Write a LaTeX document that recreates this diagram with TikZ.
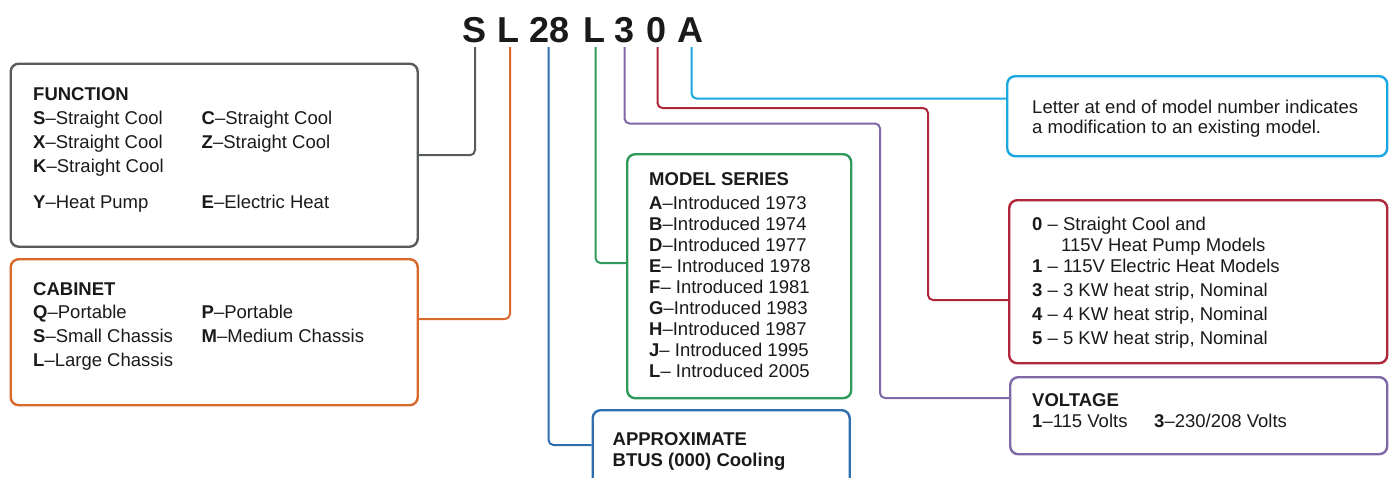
\documentclass[tikz,border=0pt]{standalone}
\usepackage{fontspec}
\setmainfont{Liberation Sans}
\definecolor{cgray}{HTML}{575C5A}
\definecolor{corange}{HTML}{D8692B}
\definecolor{cblue}{HTML}{2E6DAE}
\definecolor{cgreen}{HTML}{2E9A5B}
\definecolor{cpurple}{HTML}{8068A8}
\definecolor{cred}{HTML}{B0263A}
\definecolor{ccyan}{HTML}{1AA7E1}
\definecolor{ink}{HTML}{1A1A1A}
\begin{document}
\begin{tikzpicture}[x=1pt,y=-1pt,
  box/.style={draw, line width=2.4pt, rounded corners=8pt, inner sep=0pt, anchor=north west},
  conn/.style={line width=2pt, rounded corners=5pt},
  txt/.style={anchor=base west, inner sep=0pt, text=ink, font=\fontsize{18.5}{22}\selectfont},
  hdr/.style={anchor=base, inner sep=0pt, text=ink, font=\fontsize{36}{40}\selectfont\bfseries}]
\useasboundingbox (0,0) rectangle (1394,477);
\clip (0,0) rectangle (1394,477);
% header
\node[hdr] (cS) at (474,42) {S};
\node[hdr] (cL1) at (508,42) {L};
\node[hdr] (c28) at (549.5,42) {28};
\node[hdr] (cL2) at (594,42) {L};
\node[hdr] (c3) at (624.5,42) {3};
\node[hdr] (c0) at (656.5,42) {0};
\node[hdr] (cA) at (690,42) {A};
\coordinate (tS) at (475,47);
\coordinate (tL1) at (510,47);
\coordinate (t28) at (548.5,47);
\coordinate (tL2) at (595.5,47);
\coordinate (t3) at (624.5,47);
\coordinate (t0) at (657.5,47);
\coordinate (tA) at (691.5,47);
% boxes
\node[box, cgray, minimum width=407pt, minimum height=183pt] (fbox) at (9.5,62.5) {};
\node[box, corange, minimum width=407pt, minimum height=146pt] (cab) at (9.5,258) {};
\node[box, cgreen, minimum width=224pt, minimum height=244pt] (model) at (626,153) {};
\node[box, cblue, minimum width=257pt, minimum height=100pt] (btu) at (591.5,409) {};
\node[box, ccyan, minimum width=380pt, minimum height=80pt] (cyan) at (1006,75) {};
\node[box, cred, minimum width=378pt, minimum height=163pt] (red) at (1008,199) {};
\node[box, cpurple, minimum width=377pt, minimum height=77pt] (volt) at (1009,376) {};
% connector targets
\coordinate (cabIn) at (cab.east |- 0,319);
\coordinate (btuIn) at (btu.west |- 0,445);
\coordinate (modIn) at (model.west |- 0,263);
\coordinate (voltIn) at (volt.west |- 0,398);
\coordinate (redIn) at (red.west |- 0,300);
\coordinate (cyanIn) at (cyan.west |- 0,98.5);
\coordinate (pA) at (880,123.5);
\coordinate (rA) at (928,108);
% connectors
\draw[conn, cgray] (tS) |- (fbox.east);
\draw[conn, corange] (tL1) |- (cabIn);
\draw[conn, cblue] (t28) |- (btuIn);
\draw[conn, cgreen] (tL2) |- (modIn);
\draw[conn, cpurple] (t3) |- (pA) |- (voltIn);
\draw[conn, cred] (t0) |- (rA) |- (redIn);
\draw[conn, ccyan] (tA) |- (cyanIn);
% FUNCTION
\node[txt] (f0) at (33,100) {\textbf{FUNCTION}};
\node[txt] (f1) at (33,124) {\textbf{S}–Straight Cool};
\node[txt] (f2) at (201.5,124) {\textbf{C}–Straight Cool};
\node[txt] (f3) at (33,148) {\textbf{X}–Straight Cool};
\node[txt] (f4) at (201.5,148) {\textbf{Z}–Straight Cool};
\node[txt] (f5) at (33,172) {\textbf{K}–Straight Cool};
\node[txt] (f6) at (33,208) {\textbf{Y}–Heat Pump};
\node[txt] (f7) at (201.5,208) {\textbf{E}–Electric Heat};
% CABINET
\node[txt] (k0) at (33,295) {\textbf{CABINET}};
\node[txt] (k1) at (33,318.5) {\textbf{Q}–Portable};
\node[txt] (k2) at (201.5,318.5) {\textbf{P}–Portable};
\node[txt] (k3) at (33,342) {\textbf{S}–Small Chassis};
\node[txt] (k4) at (201.5,342) {\textbf{M}–Medium Chassis};
\node[txt] (k5) at (33,366) {\textbf{L}–Large Chassis};
% MODEL SERIES
\node[txt] (m0) at (649,185) {\textbf{MODEL SERIES}};
\node[txt] (m1) at (649,209) {\textbf{A}–Introduced 1973};
\node[txt] (m2) at (649,230.1) {\textbf{B}–Introduced 1974};
\node[txt] (m3) at (649,251.2) {\textbf{D}–Introduced 1977};
\node[txt] (m4) at (649,272.3) {\textbf{E}– Introduced 1978};
\node[txt] (m5) at (649,293.4) {\textbf{F}– Introduced 1981};
\node[txt] (m6) at (649,314.5) {\textbf{G}–Introduced 1983};
\node[txt] (m7) at (649,335.6) {\textbf{H}–Introduced 1987};
\node[txt] (m8) at (649,356.7) {\textbf{J}– Introduced 1995};
\node[txt] (m9) at (649,377.8) {\textbf{L}– Introduced 2005};
% BTUS
\node[txt] (b0) at (612.5,445) {\textbf{APPROXIMATE}};
\node[txt] (b1) at (612.5,466) {\textbf{BTUS (000) Cooling}};
% cyan
\node[txt] (y0) at (1032,113) {Letter at end of model number indicates};
\node[txt] (y1) at (1032,133.5) {a modification to an existing model.};
% red
\node[txt] (r0) at (1032,230) {\textbf{0} – Straight Cool and};
\node[txt] (r1) at (1061,251.7) {115V Heat Pump Models};
\node[txt] (r2) at (1032,272.3) {\textbf{1} – 115V Electric Heat Models};
\node[txt] (r3) at (1032,296) {\textbf{3} – 3 KW heat strip, Nominal};
\node[txt] (r4) at (1032,320) {\textbf{4} – 4 KW heat strip, Nominal};
\node[txt] (r5) at (1032,344) {\textbf{5} – 5 KW heat strip, Nominal};
% VOLTAGE
\node[txt] (v0) at (1032,406.7) {\textbf{VOLTAGE}};
\node[txt] (v1) at (1032,427.5) {\textbf{1}–115 Volts};
\node[txt] (v2) at (1154,427.5) {\textbf{3}–230/208 Volts};
\end{tikzpicture}
\end{document}
